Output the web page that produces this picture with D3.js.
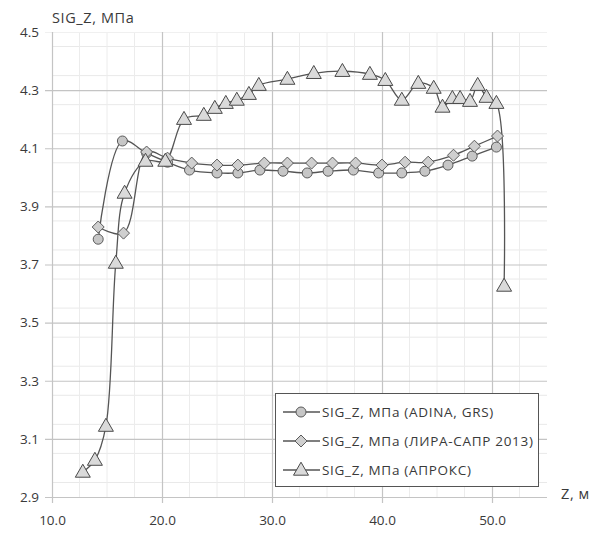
<!DOCTYPE html>
<html>
<head>
<meta charset="utf-8">
<script src="https://cdn.jsdelivr.net/npm/d3@7"></script>
<style>
  html, body { margin: 0; padding: 0; background: #fff; }
  svg text { font-family: "Open Sans", "DejaVu Sans", sans-serif; fill: #3a3a3a; }
</style>
</head>
<body>
<svg id="chart" width="599" height="538"></svg>
<script>
// Z coordinate (m) and stress SIG_Z (MPa) for the three solvers
const adinaZ   = [14.2, 16.4, 18.6, 20.5, 22.5, 25.0, 26.9, 28.9, 31.0, 33.2, 35.1, 37.4, 39.7, 41.8, 43.9, 46.0, 48.2, 50.4];
const adinaS   = [3.787, 4.125, 4.083, 4.052, 4.025, 4.015, 4.015, 4.025, 4.021, 4.015, 4.021, 4.025, 4.015, 4.015, 4.021, 4.042, 4.073, 4.104];

const liraZ    = [14.2, 16.5, 18.6, 20.5, 22.7, 25.0, 26.9, 29.3, 31.4, 33.6, 35.5, 37.6, 40.0, 42.1, 44.2, 46.5, 48.4, 50.5];
const liraS    = [3.829, 3.808, 4.087, 4.066, 4.049, 4.042, 4.042, 4.049, 4.049, 4.049, 4.049, 4.049, 4.042, 4.052, 4.052, 4.076, 4.107, 4.142];

const aproksZ  = [12.8, 13.9, 14.9, 15.8, 16.6, 18.5, 20.3, 22.0, 23.8, 24.8, 25.8, 26.8, 27.9, 28.8, 31.4, 33.8, 36.4, 38.9, 40.3, 41.8, 43.3, 44.7, 45.5, 46.4, 47.1, 48.0, 48.7, 49.5, 50.4, 51.1];
const aproksS  = [2.986, 3.027, 3.144, 3.705, 3.946, 4.056, 4.056, 4.200, 4.214, 4.238, 4.255, 4.266, 4.286, 4.317, 4.338, 4.358, 4.365, 4.355, 4.334, 4.266, 4.324, 4.307, 4.242, 4.272, 4.272, 4.262, 4.317, 4.276, 4.255, 3.626];

const xTicks = [10, 20, 30, 40, 50];
const yTicks = [2.9, 3.1, 3.3, 3.5, 3.7, 3.9, 4.1, 4.3, 4.5];

const seriesNames = ["SIG_Z, МПа (ADINA, GRS)", "SIG_Z, МПа (ЛИРА-САПР 2013)", "SIG_Z, МПа (АПРОКС)"];
const yTitle = "SIG_Z, МПа";
const xTitle = "Z, м";

const series = [
  { name: seriesNames[0], z: adinaZ,  s: adinaS,  marker: "circle" },
  { name: seriesNames[1], z: liraZ,   s: liraS,   marker: "diamond" },
  { name: seriesNames[2], z: aproksZ, s: aproksS, marker: "triangle" }
];

const svg = d3.select("#chart");
const x = d3.scaleLinear().domain([10, 55]).range([52, 547]);
const y = d3.scaleLinear().domain([2.9, 4.5]).range([497, 32]);

// faint minor grid
const grid = svg.append("g");
grid.selectAll("line.minor-h")
  .data(d3.range(2.95, 4.5, 0.1))
  .join("line")
  .attr("x1", x(10)).attr("x2", x(55))
  .attr("y1", d => y(d)).attr("y2", d => y(d))
  .attr("stroke", "#e9e9e9").attr("stroke-width", 1);
grid.selectAll("line.minor-v")
  .data(d3.range(12.5, 55, 2.5).filter(v => v % 10 !== 0))
  .join("line")
  .attr("x1", d => x(d)).attr("x2", d => x(d))
  .attr("y1", y(4.5)).attr("y2", y(2.9))
  .attr("stroke", "#ececec").attr("stroke-width", 1);

// major grid with axes drawn by d3
const yAxis = d3.axisLeft(y).tickValues(yTicks).tickFormat(d3.format(".1f"))
  .tickSize(-(x(55) - x(10)) - 7).tickPadding(7);
const gy = svg.append("g").attr("transform", `translate(${x(10) - 7},0)`).call(yAxis);
gy.select(".domain").remove();
gy.selectAll(".tick line").attr("stroke", "#c4c4c4").attr("stroke-width", 1.2)
  .attr("x1", 0).attr("x2", x(55) - x(10) + 7);
gy.selectAll(".tick").filter(d => d === 4.5).select("line").attr("stroke", "#f0f0f0");
gy.selectAll(".tick text").attr("font-size", 13.5).attr("x", -6).attr("dy", "0.32em");

const xAxis = d3.axisBottom(x).tickValues(xTicks).tickFormat(d3.format(".1f"))
  .tickSize(-(y(2.9) - y(4.5))).tickPadding(18);
const gx = svg.append("g").attr("transform", `translate(0,${y(2.9)})`).call(xAxis);
gx.select(".domain").remove();
gx.selectAll(".tick line").attr("stroke", "#c4c4c4").attr("stroke-width", 1.2).attr("y1", 6);
gx.selectAll(".tick text").attr("font-size", 13.5);

svg.append("text").attr("x", 52).attr("y", 23).attr("font-size", 14.5)
  .attr("letter-spacing", 0.6).text(yTitle);
svg.append("text").attr("x", 561).attr("y", 499).attr("font-size", 14.5)
  .attr("letter-spacing", 0.6).text(xTitle);

// markers
function drawMarker(g, type, cx, cy) {
  if (type === "circle") {
    g.append("circle").attr("cx", cx).attr("cy", cy).attr("r", 5)
      .attr("fill", "#c6c6c6").attr("stroke", "#5a5a5a").attr("stroke-width", 1);
  } else if (type === "diamond") {
    const r = 6;
    g.append("path").attr("d", `M${cx},${cy - r}L${cx + r},${cy}L${cx},${cy + r}L${cx - r},${cy}Z`)
      .attr("fill", "#cfcfcf").attr("stroke", "#5a5a5a").attr("stroke-width", 1);
  } else {
    const w = 7.5, h = 13;
    g.append("path").attr("d", `M${cx},${cy - h * 0.6}L${cx + w},${cy + h * 0.4}L${cx - w},${cy + h * 0.4}Z`)
      .attr("fill", "#dadada").attr("stroke", "#4a4a4a").attr("stroke-width", 1);
  }
}

const line = d3.line().curve(d3.curveCatmullRom.alpha(0.5));
const plot = svg.append("g");
series.forEach(sr => {
  const pts = sr.z.map((z, i) => [x(z), y(sr.s[i])]);
  plot.append("path").attr("d", line(pts)).attr("fill", "none")
    .attr("stroke", "#555").attr("stroke-width", 1.3);
});
series.forEach(sr => {
  const g = plot.append("g");
  sr.z.forEach((z, i) => drawMarker(g, sr.marker, x(z), y(sr.s[i])));
});

// legend
const leg = svg.append("g");
leg.append("rect").attr("x", 275.5).attr("y", 393.5).attr("width", 263).attr("height", 93)
  .attr("fill", "#fff").attr("stroke", "#555").attr("stroke-width", 1);
series.forEach((sr, i) => {
  const cy = 412 + i * 29;
  leg.append("line").attr("x1", 283).attr("x2", 320).attr("y1", cy).attr("y2", cy)
    .attr("stroke", "#555").attr("stroke-width", 1.3);
  drawMarker(leg, sr.marker, 301, cy);
  leg.append("text").attr("x", 322).attr("y", cy).attr("dy", "0.35em")
    .attr("font-size", 13.5).attr("letter-spacing", 0.7).text(sr.name);
});
</script>
</body>
</html>
